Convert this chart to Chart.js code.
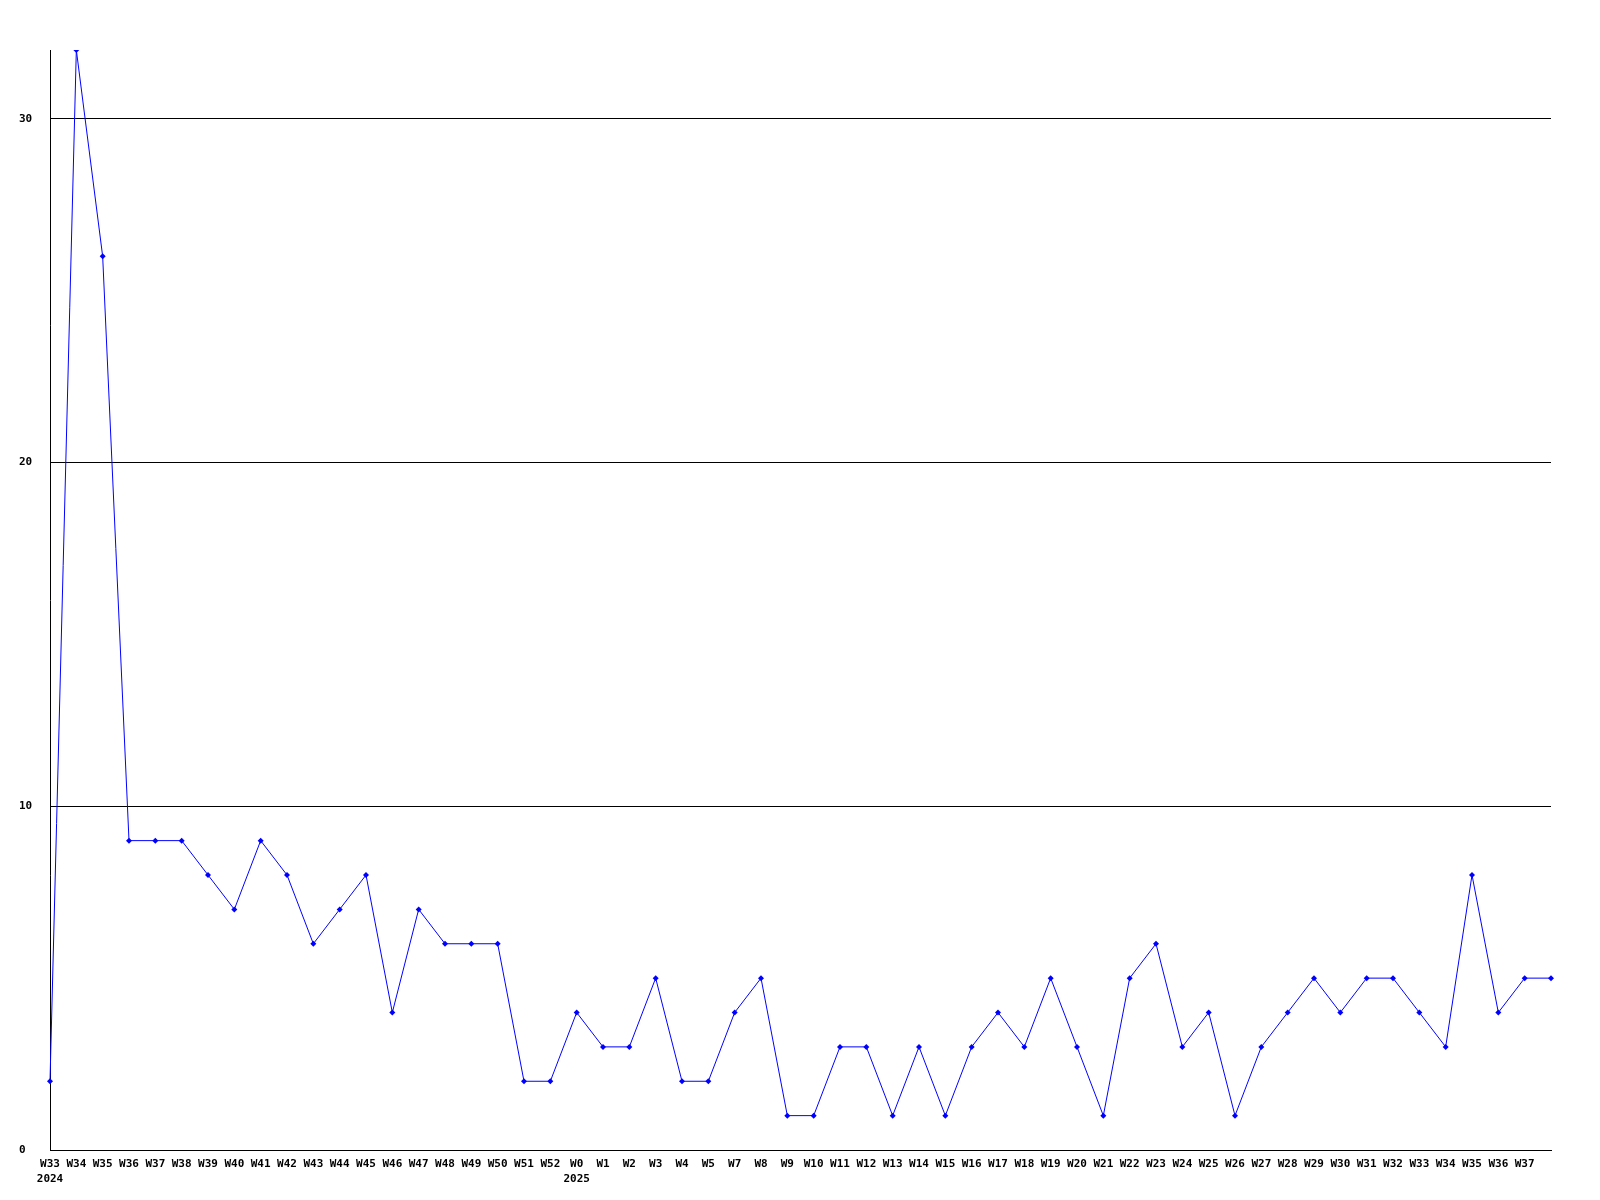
<!DOCTYPE html>
<html>
<head>
<meta charset="utf-8">
<script src="https://cdn.jsdelivr.net/npm/chart.js@4/dist/chart.umd.min.js"></script>
<style>
  html, body { margin: 0; padding: 0; background: #fff; }
  #wrap { width: 1600px; height: 1200px; }
</style>
</head>
<body>
<div id="wrap"><canvas id="weekChart" width="1600" height="1200"></canvas></div>
<script>
// ── Data ──

var weeks = [
  ["W33", "2024"], "W34", "W35", "W36", "W37", "W38", "W39", "W40", "W41", "W42",
  "W43", "W44", "W45", "W46", "W47", "W48", "W49", "W50", "W51", "W52",
  ["W0", "2025"], "W1", "W2", "W3", "W4", "W5", "W7", "W8", "W9", "W10",
  "W11", "W12", "W13", "W14", "W15", "W16", "W17", "W18", "W19", "W20",
  "W21", "W22", "W23", "W24", "W25", "W26", "W27", "W28", "W29", "W30",
  "W31", "W32", "W33", "W34", "W35", "W36", "W37", ""
];

var counts = [
  2, 32, 26, 9, 9, 9, 8, 7, 9, 8,
  6, 7, 8, 4, 7, 6, 6, 6, 2, 2,
  4, 3, 3, 5, 2, 2, 4, 5, 1, 1,
  3, 3, 1, 3, 1, 3, 4, 3, 5, 3,
  1, 5, 6, 3, 4, 1, 3, 4, 5, 4,
  5, 5, 4, 3, 8, 4, 5, 5
];

var yTicks = [0, 10, 20, 30];
var yMax = 32;

// ── Chart ──

var FONT = { family: "'DejaVu Sans Mono', monospace", size: 11, weight: "bold", lineHeight: 1.4 };

var ctx = document.getElementById("weekChart").getContext("2d");
new Chart(ctx, {
  type: "line",
  data: {
    labels: weeks,
    datasets: [{
      data: counts,
      borderColor: "#0000ff",
      backgroundColor: "#0000ff",
      borderWidth: 1,
      tension: 0,
      pointStyle: "rectRot",
      pointRadius: 3,
      pointBorderWidth: 0,
      pointHoverRadius: 3,
    }],
  },
  options: {
    responsive: false,
    animation: false,
    events: [],
    layout: { padding: { left: 19, top: 50, right: 49, bottom: 0 } },
    plugins: { legend: { display: false }, tooltip: { enabled: false } },
    scales: {
      x: {
        offset: false,
        grid: { display: false },
        border: { display: true, color: "#000", width: 1 },
        ticks: {
          autoSkip: false,
          maxRotation: 0,
          minRotation: 0,
          padding: -2,
          color: "#000",
          font: FONT,
        },
        afterFit: function (scale) { scale.height = 50; },
      },
      y: {
        min: 0,
        max: yMax,
        grid: { color: "#000", lineWidth: 1, drawTicks: false },
        border: { display: true, color: "#000", width: 1 },
        afterBuildTicks: function (scale) {
          scale.ticks = yTicks.map(function (v) { return { value: v }; });
        },
        ticks: {
          crossAlign: "far",
          color: "#000",
          font: FONT,
        },
        afterFit: function (scale) { scale.width = 31; },
      },
    },
  },
});
</script>
</body>
</html>
